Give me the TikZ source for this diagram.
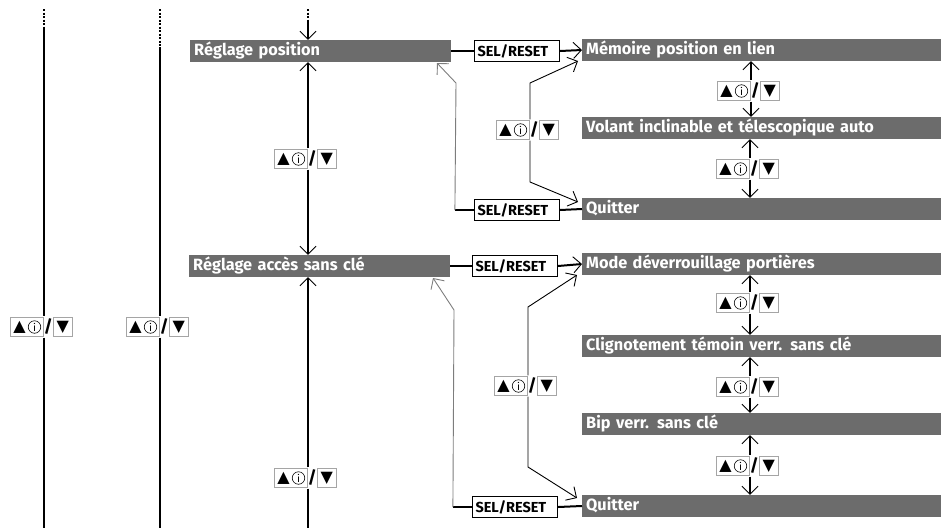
\documentclass[tikz,border=0pt]{standalone}
\usepackage{fontspec}
\setmainfont{Fira Sans}
\newfontfamily\symfont{DejaVu Sans}
\usetikzlibrary{arrows.meta,positioning}
\definecolor{barGray}{RGB}{108,108,108}
\definecolor{lineGray}{RGB}{125,125,125}
\definecolor{keyGray}{RGB}{165,165,165}
% key pair: up/info and down, drawn round the line that runs through it
\tikzset{keypair/.pic={
  \coordinate (-c) at (0,0);
  \node[fill=white,minimum width=64pt,minimum height=21pt,inner sep=0pt] (-all) at (-3,0) {};
  \node[draw=keyGray,line width=0.7pt,minimum width=33pt,minimum height=19pt,inner sep=0pt] (-up) at (-17.5,0) {};
  \node[font=\symfont\fontsize{16}{18}\selectfont,inner sep=0pt] (-tri) at (-24.5,0) {▲};
  \node[draw,circle,line width=0.6pt,minimum size=12.5pt,inner sep=0pt,font=\fontsize{10.5}{11}\selectfont] (-info) at (-9.5,0) {i};
  \node[font=\bfseries\fontsize{17}{18}\selectfont,inner sep=0pt] (-sl) at (4.3,0) {/};
  \node[draw=keyGray,line width=0.7pt,minimum size=19pt,inner sep=0pt,font=\symfont\fontsize{16}{18}\selectfont] (-dn) at (18.8,0) {▼};
}}
\begin{document}
\begin{tikzpicture}[x=1pt,y=-1pt,
  >={Straight Barb[length=8pt,width=16pt,line width=0.9pt]},
  bar/.style={fill=barGray,text=white,font=\bfseries\fontsize{16.3}{18}\selectfont,anchor=west,
    minimum height=22pt,inner xsep=4pt,inner ysep=0pt,align=left,text height=12pt,text depth=3.5pt},
  lbar/.style={bar,text width=253pt},
  rbar/.style={bar,text width=351pt},
  selbox/.style={draw=black,line width=1.2pt,fill=white,font=\bfseries\fontsize{14.5}{16}\selectfont,
    minimum width=85pt,minimum height=21pt,inner xsep=3pt,inner ysep=0pt,text width=79pt,align=left},
  main/.style={line width=2pt},
  thinl/.style={line width=0.9pt},
  back/.style={line width=0.9pt,draw=lineGray},
  dots/.style={line width=2pt,dash pattern=on 2pt off 1.5pt}]
\useasboundingbox (0,0) rectangle (946,528);
\coordinate (bot) at (0,528);
\coordinate (c1) at (44,9);
\coordinate (c2) at (160,9);
\coordinate (c3) at (308,9);

% bars
\node[lbar] (rp) at (190,51) {Réglage position};
\node[lbar] (ra) at (189,266) {Réglage accès sans clé};
\node[rbar] (mem) at (582,50) {Mémoire position en lien};
\node[rbar] (vol) at (582,128) {Volant inclinable et télescopique auto};
\node[rbar] (q1) at (582,209) {Quitter};
\node[rbar] (mode) at (582,264) {Mode déverrouillage portières};
\node[rbar] (clig) at (582,346) {Clignotement témoin verr. sans clé};
\node[rbar] (bip) at (582,424) {Bip verr. sans clé};
\node[rbar] (q2) at (582,506) {Quitter};

% SEL/RESET
\node[selbox] (sr1) at (517,51) {SEL/RESET};
\node[selbox] (sr2) at (517,210) {SEL/RESET};
\node[selbox] (sr3) at (515,266) {SEL/RESET};
\node[selbox] (sr4) at (515,507) {SEL/RESET};

% keys
\pic (k1) at (44,327) {keypair};
\pic (k2) at (160,327) {keypair};
\pic (k3) at (308,159) {keypair};
\pic (k4) at (308,478) {keypair};
\pic (m1) at (530,130) {keypair};
\pic (m2) at (528,386) {keypair};
\pic (kr1) at (751,91) {keypair};
\pic (kr2) at (750,169) {keypair};
\pic (kr3) at (750,303) {keypair};
\pic (kr4) at (750,387) {keypair};
\pic (kr5) at (750,466) {keypair};

% left loops
\draw[dots] (c1) -- ++(0,19) coordinate (c1s);
\draw[main] (c1s) -- (k1-all.north -| c1);
\draw[main] (k1-all.south -| c1) -- (c1 |- bot);
\draw[dots] (c2) -- ++(0,38) coordinate (c2s);
\draw[main] (c2s) -- (k2-all.north -| c2);
\draw[main] (k2-all.south -| c2) -- (c2 |- bot);

% main column
\draw[dots] (c3) -- ++(0,12) coordinate (c3s);
\draw[main,->] (c3s) -- (rp.north -| c3);
\draw[main,->] (k3-all.north -| c3) -- (rp.south -| c3);
\draw[main,->] (k3-all.south -| c3) -- (ra.north -| c3);
\draw[main,->] (k4-all.north -| c3) -- (ra.south -| c3);
\draw[main] (k4-all.south -| c3) -- (c3 |- bot);

% upper group
\draw[main] (rp.east) -- (sr1.west);
\draw[main,->] (sr1.east) -- (mem.west);
\draw[main] (sr2.east) -- (q1.west);
\draw[main] (sr2.west) -- ++(-19,0) coordinate (b1);
\draw[back,->] (b1) -- (456,83) -- (437,63);
\draw[thinl,->] (m1-c |- m1-all.north) -- (530,83) -- (578,61);
\draw[thinl,->] (m1-c |- m1-all.south) -- (530,182) -- (578,202);
\draw[main,->] (kr1-c |- kr1-all.north) -- (kr1-c |- mem.south);
\draw[main,->] (kr1-c |- kr1-all.south) -- (kr1-c |- vol.north);
\draw[main,->] (kr2-c |- kr2-all.north) -- (kr2-c |- vol.south);
\draw[main,->] (kr2-c |- kr2-all.south) -- (kr2-c |- q1.north);

% lower group
\draw[main] (ra.east) -- (sr3.west);
\draw[main,->] (sr3.east) -- (mode.west);
\draw[main] (sr4.east) -- (q2.west);
\draw[main] (sr4.west) -- ++(-19,0) coordinate (b2);
\draw[back,->] (b2) -- (454,310) -- (433,278);
\draw[thinl,->] (m2-c |- m2-all.north) -- (528,307) -- (577,275);
\draw[thinl,->] (m2-c |- m2-all.south) -- (528,467) -- (577,498);
\draw[main,->] (kr3-c |- kr3-all.north) -- (kr3-c |- mode.south);
\draw[main,->] (kr3-c |- kr3-all.south) -- (kr3-c |- clig.north);
\draw[main,->] (kr4-c |- kr4-all.north) -- (kr4-c |- clig.south);
\draw[main,->] (kr4-c |- kr4-all.south) -- (kr4-c |- bip.north);
\draw[main,->] (kr5-c |- kr5-all.north) -- (kr5-c |- bip.south);
\draw[main,->] (kr5-c |- kr5-all.south) -- (kr5-c |- q2.north);
\end{tikzpicture}
\end{document}
